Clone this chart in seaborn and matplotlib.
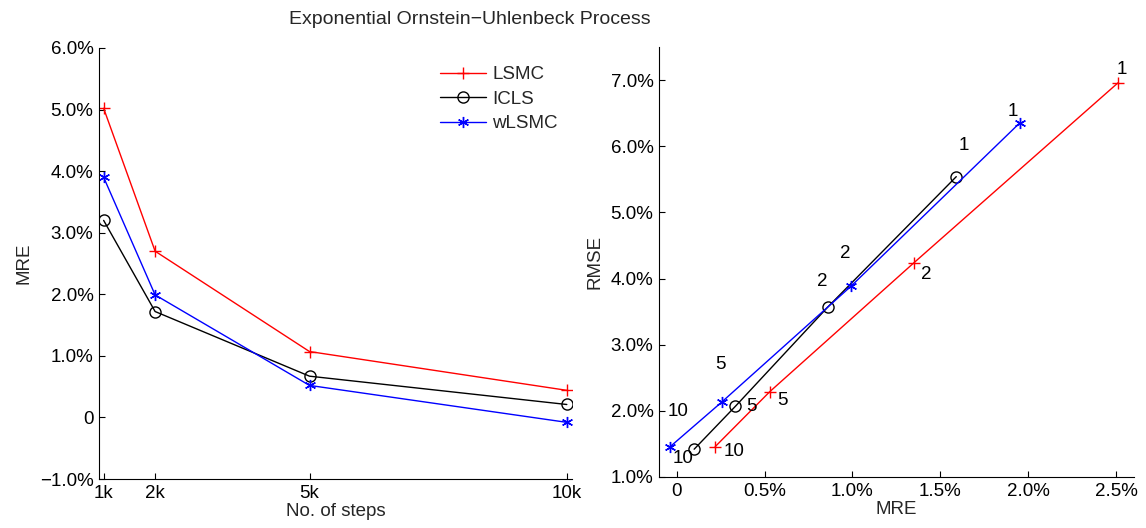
import matplotlib
matplotlib.use("Agg")
import matplotlib.pyplot as plt
import seaborn as sns
import pandas as pd

# ---- data (values in %) ----
steps = [1, 2, 5, 10]
step_labels = ["1k", "2k", "5k", "10k"]
mre_lsmc = [5.02, 2.70, 1.07, 0.44]
mre_icls = [3.20, 1.72, 0.67, 0.21]
mre_wlsmc = [3.90, 1.99, 0.52, -0.08]

pt_labels = ["1", "2", "5", "10"]
r_mre_lsmc = [2.51, 1.35, 0.53, 0.22]
r_rmse_lsmc = [6.96, 4.24, 2.29, 1.46]
r_mre_icls = [1.59, 0.86, 0.335, 0.10]
r_rmse_icls = [5.54, 3.57, 2.07, 1.42]
r_mre_wlsmc = [1.95, 0.99, 0.26, -0.04]
r_rmse_wlsmc = [6.35, 3.88, 2.14, 1.45]

FS = 13.5

sns.set_style("ticks")
plt.rcParams['font.family'] = ['Liberation Sans', 'DejaVu Sans']
plt.rcParams['font.size'] = FS
plt.rcParams['xtick.direction'] = 'in'
plt.rcParams['ytick.direction'] = 'in'

fig = plt.figure(figsize=(11.46, 5.28), dpi=100)
ax1 = fig.add_axes([0.0864, 0.0928, 0.4127, 0.8163])
ax2 = fig.add_axes([0.575, 0.0966, 0.4145, 0.8144])

asterisk = (6, 2, 0)
series = [
    ("LSMC", mre_lsmc, "red", "+", r_mre_lsmc, r_rmse_lsmc),
    ("ICLS", mre_icls, "black", "o", r_mre_icls, r_rmse_icls),
    ("wLSMC", mre_wlsmc, "blue", asterisk, r_mre_wlsmc, r_rmse_wlsmc),
]

for name, vals, col, mk, rx, ry in series:
    df = pd.DataFrame({"steps": steps, "mre": vals})
    sns.lineplot(data=df, x="steps", y="mre", ax=ax1, color=col, marker=mk,
                 markersize=8, markerfacecolor='none' if mk == 'o' else col,
                 markeredgecolor=col, markeredgewidth=1.0, linewidth=1.0,
                 label=name, estimator=None, sort=False)
    df2 = pd.DataFrame({"mre": rx, "rmse": ry})
    sns.lineplot(data=df2, x="mre", y="rmse", ax=ax2, color=col, marker=mk,
                 markersize=8, markerfacecolor='none' if mk == 'o' else col,
                 markeredgecolor=col, markeredgewidth=1.0, linewidth=1.0,
                 estimator=None, sort=False, legend=False)

# point labels on right panel (offsets in pixels)
offsets = {
    "LSMC": [(4, 13), (12, -12), (13, -9), (19, -5)],
    "ICLS": [(8, 31), (-6, 25), (16, 0), (-11, -9)],
    "wLSMC": [(-7, 12), (-5, 33), (-2, 37), (9, 36)],
}
for name, vals, col, mk, rx, ry in series:
    for lab, xv, yv, off in zip(pt_labels, rx, ry, offsets[name]):
        ax2.annotate(lab, (xv, yv), xytext=off, textcoords='offset pixels',
                     ha='center', va='center', fontsize=FS, color='black')

def pct(v):
    return "0" if abs(v) < 1e-9 else f"{v:.1f}%".replace("-", "\u2212")

# left axes formatting
ax1.set_xlim(0.91, 10.1)
ax1.set_ylim(-1.0, 6.0)
ax1.set_xticks(steps)
ax1.set_xticklabels(step_labels)
yt = [-1, 0, 1, 2, 3, 4, 5, 6]
ax1.set_yticks(yt)
ax1.set_yticklabels([pct(v) for v in yt])
ax1.set_xlabel("No. of steps", labelpad=1)
ax1.set_ylabel("MRE", labelpad=5)
ax1.legend(loc='upper left', bbox_to_anchor=(0.72, 0.958), frameon=False,
           handlelength=2.5, borderpad=0, borderaxespad=0, labelspacing=0.4,
           handletextpad=0.3)

# right axes formatting
ax2.set_xlim(-0.1, 2.6)
ax2.set_ylim(1.0, 7.5)
xt = [0, 0.5, 1.0, 1.5, 2.0, 2.5]
ax2.set_xticks(xt)
ax2.set_xticklabels([pct(v) for v in xt])
yt2 = [1, 2, 3, 4, 5, 6, 7]
ax2.set_yticks(yt2)
ax2.set_yticklabels([pct(v) for v in yt2])
ax2.set_xlabel("MRE", labelpad=1)
ax2.set_ylabel("RMSE", labelpad=5)

for ax in (ax1, ax2):
    sns.despine(ax=ax)
    ax.tick_params(length=4, width=0.8, colors='black', labelsize=FS, pad=4)
    for s in ax.spines.values():
        s.set_linewidth(0.8)
        s.set_color('black')

fig.text(470 / 1146, 1 - 19 / 528, "Exponential Ornstein\u2212Uhlenbeck Process",
         ha='center', va='center', fontsize=14)

fig.savefig("out.png", dpi=100)
